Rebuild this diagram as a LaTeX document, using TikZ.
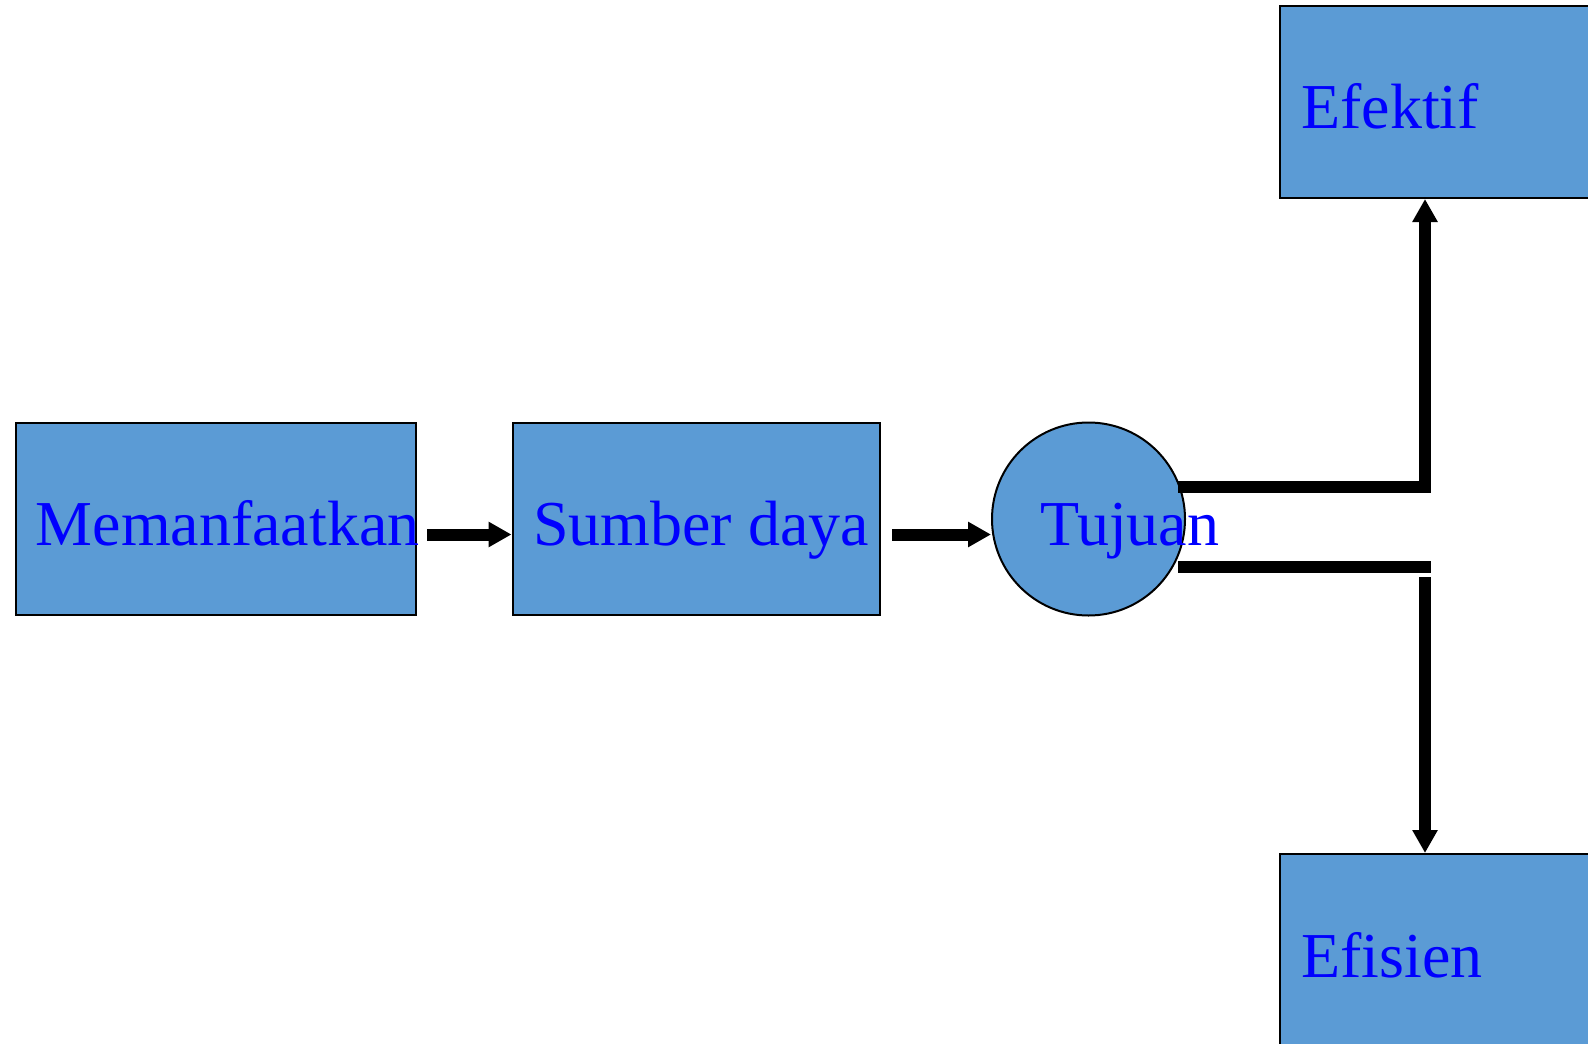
\documentclass[tikz,border=0pt]{standalone}
\usepackage{fontspec}
\setmainfont{Liberation Serif}
\usetikzlibrary{arrows.meta,calc}
\definecolor{boxblue}{RGB}{91,155,213}
\definecolor{textblue}{RGB}{0,0,255}
\tikzset{
  blk/.style={draw=black, line width=2pt, fill=boxblue, rectangle, inner sep=0pt},
  rnd/.style={draw=black, line width=2pt, fill=boxblue, circle, inner sep=0pt, minimum size=193pt},
  lbl/.style={anchor=base west, inner sep=0pt, text=textblue, font=\fontsize{64}{77}\selectfont},
  thick line/.style={line width=12pt, line join=miter},
  arr/.style={thick line, -{Triangle[length=23pt,width=24pt]}}
}
\begin{document}
\begin{tikzpicture}[x=1pt,y=-1pt]
  \useasboundingbox (0,0) rectangle (1588,1044);
  \clip (0,0) rectangle (1588,1044);
  % shapes
  \node[blk, minimum width=400pt, minimum height=191.5pt] (m) at (216.25,519) {};
  \node[blk, minimum width=367.6pt, minimum height=191.5pt] (s) at (696.3,519) {};
  \node[rnd] (t) at (1088.5,519) {};
  \node[blk, minimum width=400pt, minimum height=192pt] (ef) at (1480,102) {};
  \node[blk, minimum width=400pt, minimum height=192pt] (es) at (1480,950) {};
  % labels
  \node[lbl] (lm) at (35.5,545) {Memanfaatkan};
  \node[lbl] (ls) at (533,545) {Sumber daya};
  \node[lbl] (lt) at (1040,545) {Tujuan};
  \node[lbl] (lef) at (1301,128) {Efektif};
  \node[lbl] (les) at (1301,977) {Efisien};
  % connectors
  \coordinate (up0) at (1178,487);
  \coordinate (lo0) at (1178,567);
  \coordinate (lo1) at (1431,567);
  \coordinate (lo2) at (1425,577);
  \draw[arr] ($(m.east)+(10,15.5)$) -- ($(s.west)+(0,15.5)$);
  \draw[arr] ($(s.east)+(11,15.5)$) -- ($(t.west)+(0,15.5)$);
  \draw[arr] (up0) -| (ef.south -| lo2);
  \draw[thick line] (lo0) -- (lo1);
  \draw[arr] (lo2) -- (es.north -| lo2);
\end{tikzpicture}
\end{document}
